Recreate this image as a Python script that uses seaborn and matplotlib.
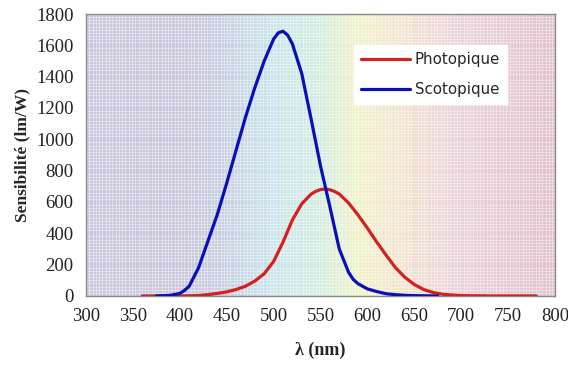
import numpy as np
import pandas as pd
import matplotlib
matplotlib.use("Agg")
import matplotlib.pyplot as plt
import seaborn as sns
from matplotlib.colors import LinearSegmentedColormap

# Sensibilité photopique (lm/W)
lambda_photo = [360, 370, 380, 390, 400, 410, 420, 430, 440, 450, 460, 470, 480,
                490, 500, 510, 520, 530, 540, 545, 550, 555, 560, 565, 570, 580,
                590, 600, 610, 620, 630, 640, 650, 660, 670, 680, 690, 700, 710,
                720, 730, 740, 750, 760, 770, 780]
photopique = [0, 0, 0, 0, 0, 1, 3, 8, 16, 26, 41, 62, 95, 142, 220, 343, 485, 588,
              650, 668, 679, 683, 678, 667, 651, 593, 517, 433, 344, 260, 180, 119,
              73, 41, 22, 11, 6, 3, 1, 1, 0, 0, 0, 0, 0, 0]

# Sensibilité scotopique (lm/W)
lambda_scoto = [375, 380, 390, 400, 405, 410, 420, 430, 440, 450, 460, 470, 480,
                490, 500, 505, 510, 515, 520, 530, 540, 550, 560, 570, 580, 585,
                590, 600, 610, 620, 630, 640, 650, 660, 670, 675]
scotopique = [0, 1, 4, 16, 35, 62, 180, 350, 520, 720, 930, 1140, 1330, 1500, 1640,
              1680, 1690, 1665, 1610, 1420, 1130, 830, 570, 300, 150, 105, 78, 45,
              28, 14, 8, 4, 2, 1, 0, 0]

df_photo = pd.DataFrame({"lambda": lambda_photo, "S": photopique})
df_scoto = pd.DataFrame({"lambda": lambda_scoto, "S": scotopique})

sns.set_style("white")

fig = plt.figure(figsize=(5.68, 3.69), dpi=100)
ax = fig.add_axes([0.1514, 0.198, 0.8257, 0.764])

# fond en dégradé "spectre"
stops = [(0.0, "#ccc8dc"), (0.2, "#cac7dc"), (0.3, "#c7d1e2"), (0.4, "#cae5ec"),
         (0.5, "#d3ece0"), (0.58, "#f1f2c8"), (0.68, "#f3e3d0"), (0.8, "#ead2db"),
         (1.0, "#e2c2cf")]
cmap = LinearSegmentedColormap.from_list("spectre", stops)
grad = np.linspace(0, 1, 400).reshape(1, -1)
ax.imshow(grad, extent=[300, 800, 0, 1800], aspect="auto", cmap=cmap, zorder=0)

# trame fine
ax.set_xticks(np.arange(300, 801, 3.5), minor=True)
ax.set_yticks(np.arange(0, 1801, 20), minor=True)
ax.grid(which="minor", color="white", linewidth=0.6, alpha=0.45, zorder=1)
ax.grid(which="major", visible=False)
ax.tick_params(which="minor", length=0)

sns.lineplot(data=df_photo, x="lambda", y="S", color="#d42020", linewidth=2.3,
             label="Photopique", ax=ax, zorder=3)
sns.lineplot(data=df_scoto, x="lambda", y="S", color="#0a10b8", linewidth=2.3,
             label="Scotopique", ax=ax, zorder=4)

ax.set_xlim(300, 800)
ax.set_ylim(0, 1800)
ax.set_xticks(range(300, 801, 50))
ax.set_yticks(range(0, 1801, 200))

for s in ax.spines.values():
    s.set_color("#8a8a8a")
    s.set_linewidth(1.0)

ax.tick_params(which="major", direction="out", length=4, width=0.8, color="#8a8a8a",
               labelsize=13.5, pad=5)
for lab in ax.get_xticklabels() + ax.get_yticklabels():
    lab.set_family("Liberation Serif")
    lab.set_color("#222222")

ax.set_xlabel("λ (nm)", fontsize=13, fontweight="bold", family="Liberation Serif",
              labelpad=12)
ax.set_ylabel("Sensibilité (lm/W)", fontsize=12.5, fontweight="bold",
              family="Liberation Serif", labelpad=4)

leg = ax.legend(loc="upper left", bbox_to_anchor=(0.555, 0.915), frameon=True,
                fancybox=False, handlelength=3.3, handletextpad=0.3,
                borderpad=0.45, labelspacing=1.0, fontsize=10.8)
leg.get_frame().set_facecolor("white")
leg.get_frame().set_edgecolor("white")
leg.get_frame().set_alpha(1)

fig.savefig("out.png", dpi=100)
